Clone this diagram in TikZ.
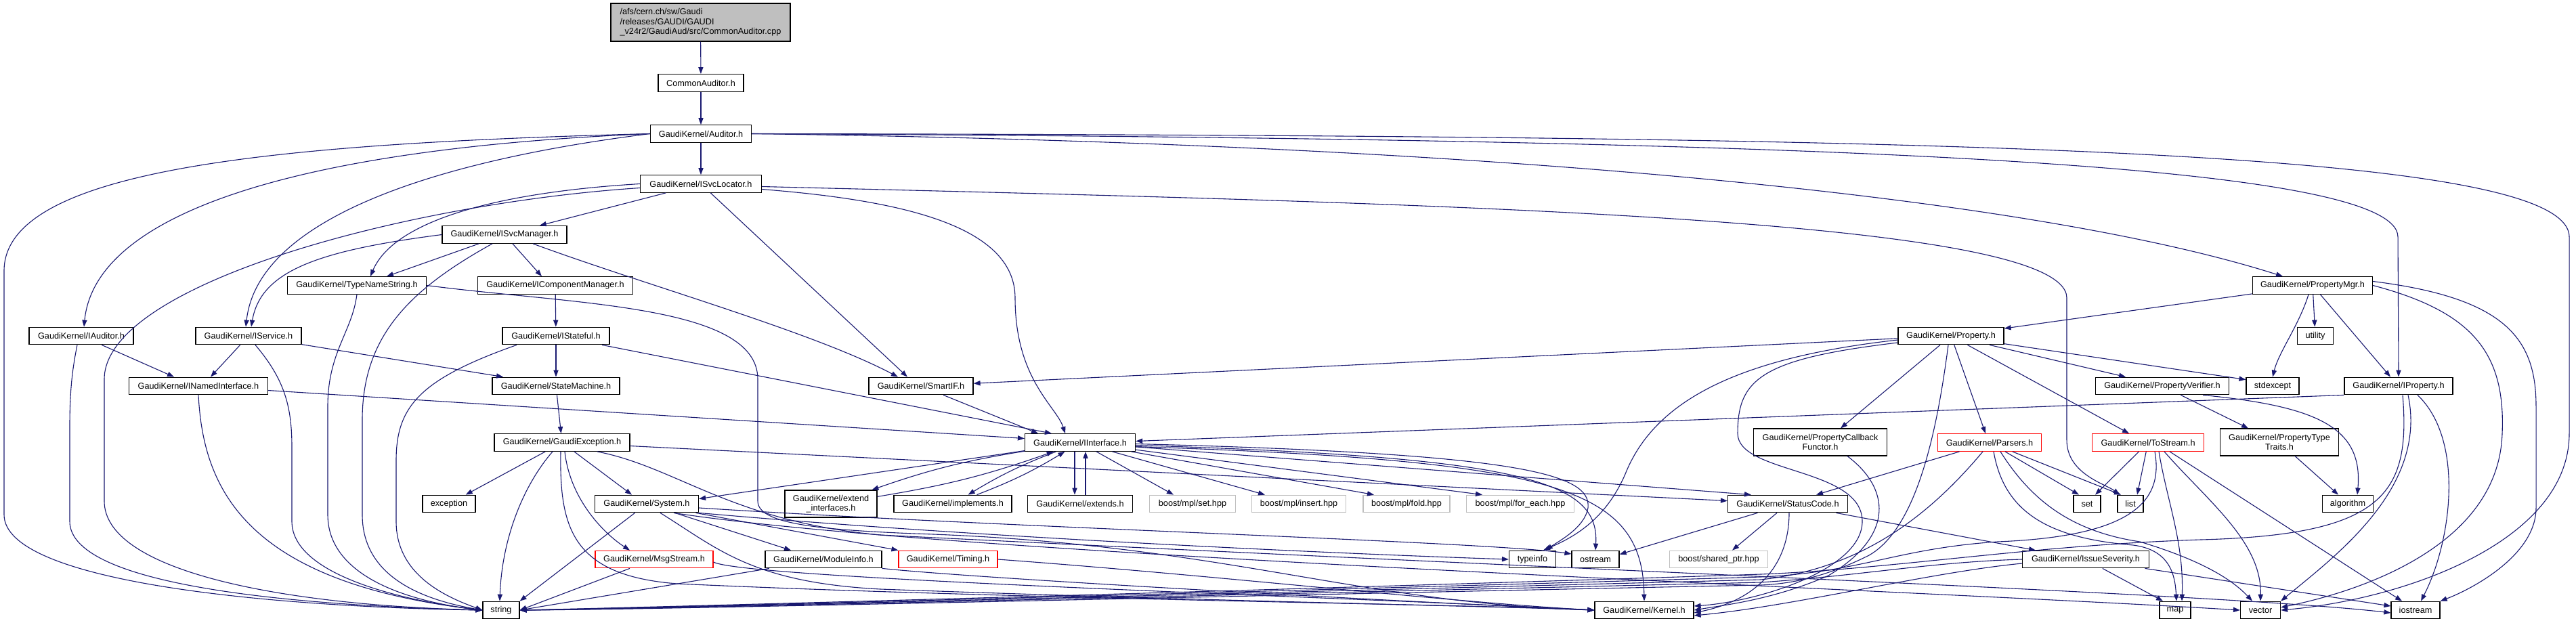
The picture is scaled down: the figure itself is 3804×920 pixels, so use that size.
\documentclass[tikz,border=0pt]{standalone}
\usepackage{fontspec}
\setmainfont{Liberation Sans}
\usepackage{tikz}
\usetikzlibrary{arrows.meta}
\definecolor{doxyedge}{HTML}{191970}
\definecolor{doxyred}{HTML}{FF0000}
\definecolor{doxygrey}{HTML}{BFBFBF}
\tikzset{
  incbox/.style={draw=black, fill=white, line width=0.6pt, inner sep=0pt,
    minimum height=12.8pt, align=center, font=\fontsize{6.35}{7.3}\selectfont},
  redbox/.style={incbox, draw=doxyred},
  extbox/.style={incbox, draw=doxygrey},
  rootbox/.style={incbox, fill=doxygrey, align=left},
  inc/.style={draw=doxyedge, line width=0.55pt, -{Triangle[length=5pt,width=3.6pt]}},
}

\begin{document}
\begin{tikzpicture}[x=0.5pt, y=-0.5pt]
  \useasboundingbox (0,0) rectangle (3804,920);

  % files
  \node[rootbox, minimum width=132.5pt, minimum height=28pt] (cpp) at (1034.5,33)
    {/afs/cern.ch/sw/Gaudi\\/releases/GAUDI/GAUDI\\\_v24r2/GaudiAud/src/CommonAuditor.cpp};
  \node[incbox, minimum width=63pt]    (cah)   at (1035,122.5) {CommonAuditor.h};
  \node[incbox, minimum width=74.5pt]  (aud)   at (1035,197.5) {GaudiKernel/Auditor.h};
  \node[incbox, minimum width=89.5pt]  (isl)   at (1035,271.5) {GaudiKernel/ISvcLocator.h};
  \node[incbox, minimum width=92pt]    (ism)   at (745,346.5)  {GaudiKernel/ISvcManager.h};
  \node[incbox, minimum width=102.5pt] (tns)   at (527,421.5)  {GaudiKernel/TypeNameString.h};
  \node[incbox, minimum width=114.5pt] (icm)   at (820,421.5)  {GaudiKernel/IComponentManager.h};
  \node[incbox, minimum width=88.5pt]  (pmgr)  at (3415,421.5) {GaudiKernel/PropertyMgr.h};
  \node[incbox, minimum width=77pt]    (iaud)  at (120,496)    {GaudiKernel/IAuditor.h};
  \node[incbox, minimum width=78pt]    (isvc)  at (367,496)    {GaudiKernel/IService.h};
  \node[incbox, minimum width=79pt]    (istf)  at (821,496)    {GaudiKernel/IStateful.h};
  \node[incbox, minimum width=78pt]    (prop)  at (2881,496)   {GaudiKernel/Property.h};
  \node[incbox, minimum width=26.5pt]  (util)  at (3419,496)   {utility};
  \node[incbox, minimum width=102.5pt] (inam)  at (293,570)    {GaudiKernel/INamedInterface.h};
  \node[incbox, minimum width=94pt]    (stm)   at (821,570)    {GaudiKernel/StateMachine.h};
  \node[incbox, minimum width=77pt]    (smart) at (1360,570)   {GaudiKernel/SmartIF.h};
  \node[incbox, minimum width=98.5pt]  (pver)  at (3193,570)   {GaudiKernel/PropertyVerifier.h};
  \node[incbox, minimum width=39pt]    (stdex) at (3356,570)   {stdexcept};
  \node[incbox, minimum width=80pt]    (iprop) at (3542,570)   {GaudiKernel/IProperty.h};
  \node[incbox, minimum width=100pt]   (gex)   at (830,653.5)  {GaudiKernel/GaudiException.h};
  \node[incbox, minimum width=81.5pt]  (iint)  at (1595,653.5) {GaudiKernel/IInterface.h};
  \node[incbox, minimum width=98.5pt, minimum height=20pt] (pcb) at (2688,653)
    {GaudiKernel/PropertyCallback\\Functor.h};
  \node[redbox, minimum width=76.5pt]  (pars)  at (2938,653.5) {GaudiKernel/Parsers.h};
  \node[redbox, minimum width=82.5pt]  (tostr) at (3172,653.5) {GaudiKernel/ToStream.h};
  \node[incbox, minimum width=87.5pt, minimum height=20pt] (ptt) at (3366,653)
    {GaudiKernel/PropertyType\\Traits.h};
  \node[incbox, minimum width=39pt]    (exc)   at (663,744)    {exception};
  \node[incbox, minimum width=76.5pt]  (sys)   at (955,744)    {GaudiKernel/System.h};
  \node[incbox, minimum width=68pt, minimum height=20pt] (ext) at (1227,744)
    {GaudiKernel/extend\\\_interfaces.h};
  \node[incbox, minimum width=87pt]    (impl)  at (1407,744)   {GaudiKernel/implements.h};
  \node[incbox, minimum width=77.5pt]  (exts)  at (1595,744)   {GaudiKernel/extends.h};
  \node[extbox, minimum width=63.5pt]  (bset)  at (1761,744)   {boost/mpl/set.hpp};
  \node[extbox, minimum width=69.5pt]  (bins)  at (1918,744)   {boost/mpl/insert.hpp};
  \node[extbox, minimum width=64pt]    (bfold) at (2077,744)   {boost/mpl/fold.hpp};
  \node[extbox, minimum width=79.5pt]  (bfe)   at (2245,744)   {boost/mpl/for\_each.hpp};
  \node[incbox, minimum width=88.5pt]  (stc)   at (2640,744)   {GaudiKernel/StatusCode.h};
  \node[incbox, minimum width=20pt]    (set)   at (3082,744)   {set};
  \node[incbox, minimum width=19pt]    (list)  at (3146,744)   {list};
  \node[incbox, minimum width=37.5pt]  (algo)  at (3467,744)   {algorithm};
  \node[redbox, minimum width=87pt]    (msg)   at (966,826)    {GaudiKernel/MsgStream.h};
  \node[incbox, minimum width=86pt]    (modi)  at (1216,826)   {GaudiKernel/ModuleInfo.h};
  \node[redbox, minimum width=73pt]    (tim)   at (1400,826)   {GaudiKernel/Timing.h};
  \node[incbox, minimum width=34.5pt]  (tinfo) at (2263,826)   {typeinfo};
  \node[incbox, minimum width=35pt]    (ostr)  at (2356,826)   {ostream};
  \node[extbox, minimum width=72.5pt]  (bsp)   at (2538,826)   {boost/shared\_ptr.hpp};
  \node[incbox, minimum width=93.5pt]  (isev)  at (3080,826)   {GaudiKernel/IssueSeverity.h};
  \node[incbox, minimum width=27pt]    (str)   at (740,901)    {string};
  \node[incbox, minimum width=73pt]    (kern)  at (2428,901)   {GaudiKernel/Kernel.h};
  \node[incbox, minimum width=23pt]    (map)   at (3212,901)   {map};
  \node[incbox, minimum width=29.5pt]  (vec)   at (3338,901)   {vector};
  \node[incbox, minimum width=36pt]    (iost)  at (3567,901)   {iostream};

  % top chain
  \draw[inc] (cpp) -- (cah);
  \draw[inc] (cah) -- (aud);
  \draw[inc] (aud) -- (isl);

  % Auditor.h
  \draw[inc] (aud.west) .. controls (400,212) and (6,250) .. (6,400) -- (6,760)
    .. controls (6,860) and (400,896) .. (str.west);
  \draw[inc] (aud.west) .. controls (420,220) and (140,320) .. ([xshift=2pt]iaud.north);
  \draw[inc] (aud.west) .. controls (620,240) and (380,330) .. ([xshift=-2pt]isvc.north);
  \draw[inc] (aud.east) .. controls (2200,212) and (3000,290) .. ([xshift=-22pt]pmgr.north);
  \draw[inc] (aud.east) .. controls (2700,205) and (3541,240) .. (3541,350) -- (iprop.north);
  \draw[inc] (aud.east) .. controls (2900,200) and (3794,220) .. (3794,350) -- (3794,640)
    .. controls (3794,800) and (3550,885) .. (vec.east);

  % ISvcLocator.h
  \draw[inc] (isl) -- (ism);
  \draw[inc] (isl.west) .. controls (720,285) and (580,330) .. ([xshift=10pt]tns.north);
  \draw[inc] ([yshift=-3pt]isl.west) .. controls (600,300) and (154,420) .. (154,560) -- (154,740)
    .. controls (154,840) and (400,893) .. (str.west);
  \draw[inc] (isl) -- ([xshift=-10pt]smart.north);
  \draw[inc] ([yshift=-4pt]isl.east) .. controls (1320,295) and (1499,330) .. (1499,440)
    .. controls (1499,560) and (1560,600) .. ([xshift=-11pt]iint.north);
  \draw[inc] ([yshift=-2pt]isl.east) .. controls (2100,300) and (3052,320) .. (3052,440) -- (3052,650)
    .. controls (3052,700) and (3110,715) .. ([xshift=-8pt]list.north);

  % ISvcManager.h
  \draw[inc] (ism) -- ([xshift=22pt]tns.north);
  \draw[inc] (ism) -- ([xshift=-10pt]icm.north);
  \draw[inc] (ism.west) .. controls (470,370) and (385,400) .. ([xshift=2pt]isvc.north);
  \draw[inc] ([xshift=-9pt]ism.south) .. controls (600,430) and (535,500) .. (535,620) -- (535,760)
    .. controls (535,850) and (620,885) .. (str.west);
  \draw[inc] ([xshift=21pt]ism.south) .. controls (950,420) and (1200,490) .. ([xshift=-17pt]smart.north);

  % TypeNameString.h
  \draw[inc] (tns.south) .. controls (520,490) and (484,520) .. (484,600) -- (484,760)
    .. controls (484,850) and (600,888) .. (str.west);
  \draw[inc] (tns.east) .. controls (850,450) and (1119,450) .. (1119,560) -- (1119,740)
    .. controls (1119,772) and (1200,782) .. (1350,788) .. controls (1800,802) and (2000,890) .. (kern.west);

  \draw[inc] (icm) -- (istf);

  % IAuditor.h, IService.h, IStateful.h
  \draw[inc] (iaud) -- ([xshift=-18pt]inam.north);
  \draw[inc] ([xshift=-3pt]iaud.south) .. controls (108,540) and (103,570) .. (103,630) -- (103,770)
    .. controls (103,860) and (400,893) .. (str.west);
  \draw[inc] (isvc) -- ([xshift=9pt]inam.north);
  \draw[inc] (isvc) -- ([xshift=-39pt]stm.north);
  \draw[inc] ([xshift=5pt]isvc.south) .. controls (420,560) and (431,600) .. (431,660) -- (431,770)
    .. controls (431,850) and (600,888) .. (str.west);
  \draw[inc] (istf) -- (stm);
  \draw[inc] ([xshift=-29pt]istf.south) .. controls (620,560) and (585,600) .. (585,680) -- (585,770)
    .. controls (585,850) and (660,882) .. (str.west);
  \draw[inc] (istf) -- ([xshift=-21pt]iint.north);

  % INamedInterface.h, StateMachine.h
  \draw[inc] (inam) -- ([yshift=3pt]iint.west);
  \draw[inc] (inam.south) .. controls (300,720) and (360,860) .. (str.west);
  \draw[inc] (stm) -- (gex);

  % GaudiException.h
  \draw[inc] (gex) -- (exc);
  \draw[inc] ([xshift=-7pt]gex.south) .. controls (770,720) and (741,800) .. ([xshift=-1pt]str.north);
  \draw[inc] (gex) -- ([xshift=-11pt]sys.north);
  \draw[inc] ([xshift=2pt]gex.south) .. controls (842,740) and (895,790) .. ([xshift=-18pt]msg.north);
  \draw[inc] (gex) -- (stc);
  \draw[inc] ([xshift=-1pt]gex.south) .. controls (826,780) and (845,850) .. (1000,862)
    .. controls (1500,885) and (2200,893) .. (kern.west);
  \draw[inc] ([xshift=26pt]gex.south) .. controls (1000,690) and (1080,770) .. (1300,790)
    .. controls (2400,845) and (3300,878) .. ([yshift=-2pt]iost.west);

  % System.h
  \draw[inc] (sys) -- (str.north east);
  \draw[inc] ([xshift=10pt]sys.south) .. controls (1060,810) and (1110,860) .. (1300,870)
    .. controls (1800,888) and (2200,895) .. (kern.west);
  \draw[inc] (sys) -- ([xshift=-24pt]modi.north);
  \draw[inc] (sys) -- (tim.north west);
  \draw[inc] (sys.south east) .. controls (1400,790) and (1900,815) .. (tinfo.west);
  \draw[inc] ([yshift=-3pt]sys.east) .. controls (1500,780) and (2200,800) .. ([yshift=4pt]ostr.west);
  \draw[inc] ([xshift=20pt]sys.south) .. controls (1400,820) and (2800,870) .. (vec.west);

  % MsgStream.h, ModuleInfo.h, Timing.h
  \draw[inc] ([xshift=-18pt]msg.south) -- (str.east);
  \draw[inc] ([yshift=-2pt]msg.east) .. controls (1100,855) and (2000,882) .. (kern.west);
  \draw[inc] (modi) -- (str.east);
  \draw[inc] (modi.south east) .. controls (1450,855) and (2100,890) .. (kern.west);
  \draw[inc] (tim.east) .. controls (1800,850) and (2150,890) .. (kern.west);

  % IInterface.h
  \draw[inc] (iint) to[bend right=5] (ext);
  \draw[inc] (ext) to[bend right=5] (iint);
  \draw[inc] (iint) to[bend right=5] (impl);
  \draw[inc] (impl) to[bend right=5] (iint);
  \draw[inc] ([xshift=-4pt]iint.south) -- ([xshift=-4pt]exts.north);
  \draw[inc] ([xshift=4pt]exts.north) -- ([xshift=4pt]iint.south);
  \draw[inc] (iint) -- ([yshift=-3pt]sys.north east);
  \draw[inc] (iint) -- ([xshift=-14pt]bset.north);
  \draw[inc] (iint) -- ([xshift=-25pt]bins.north);
  \draw[inc] (iint) -- ([xshift=-24pt]bfold.north);
  \draw[inc] (iint) -- ([xshift=-28pt]bfe.north);
  \draw[inc] ([yshift=-1pt]iint.east) .. controls (2250,670) and (2350,700) .. (2345,750)
    .. controls (2340,780) and (2300,800) .. ([xshift=10pt]tinfo.north);
  \draw[inc] ([yshift=-2pt]iint.east) .. controls (2250,675) and (2362,710) .. (ostr.north);
  \draw[inc] ([yshift=-3pt]iint.east) .. controls (2300,680) and (2425,720) .. (kern.north);
  \draw[inc] (iint) -- ([xshift=-27pt]stc.north);
  \draw[inc] (smart) -- ([xshift=-31pt]iint.north);

  % PropertyMgr.h
  \draw[inc] (pmgr) -- (prop);
  \draw[inc] (pmgr) -- (util);
  \draw[inc] ([xshift=-3pt]pmgr.south) .. controls (3395,480) and (3365,520) .. (stdex.north);
  \draw[inc] (pmgr) -- ([xshift=-6pt]iprop.north);
  \draw[inc] (pmgr.east) .. controls (3650,460) and (3700,520) .. (3695,640)
    .. controls (3690,800) and (3500,870) .. ([yshift=2pt]vec.east);
  \draw[inc] ([yshift=3pt]pmgr.east) .. controls (3700,440) and (3745,500) .. (3745,600) -- (3745,750)
    .. controls (3745,820) and (3650,870) .. (iost.north east);

  % Property.h
  \draw[inc] (prop) -- (smart);
  \draw[inc] ([yshift=-3pt]prop.west) .. controls (2550,530) and (2440,600) .. (2400,700)
    .. controls (2370,770) and (2320,795) .. ([xshift=8pt]tinfo.north);
  \draw[inc] ([yshift=-5pt]prop.west) .. controls (2600,530) and (2566,560) .. (2566,640)
    .. controls (2566,700) and (2750,690) .. (2750,770) .. controls (2750,840) and (2600,888) .. ([yshift=3pt]kern.east);
  \draw[inc] ([xshift=-2pt]prop.south) .. controls (2860,640) and (2830,780) .. (2760,820)
    .. controls (2700,850) and (2650,862) .. (2600,864) .. controls (2000,876) and (1000,900) .. (str.east);
  \draw[inc] (prop) -- ([xshift=15pt]pcb.north);
  \draw[inc] (prop) -- ([xshift=-3pt]pars.north);
  \draw[inc] (prop) -- ([xshift=-14pt]tostr.north);
  \draw[inc] (prop) -- ([xshift=-27pt]pver.north);
  \draw[inc] (prop) -- ([yshift=-2pt]stdex.north west);

  % IProperty.h
  \draw[inc] (iprop.south west) -- ([yshift=1pt]iint.east);
  \draw[inc] ([xshift=3pt]iprop.south) .. controls (3560,730) and (3520,790) .. (3250,797)
    .. controls (3000,805) and (2800,840) .. (2600,848) .. controls (2000,868) and (1000,896) .. (str.east);
  \draw[inc] ([xshift=7pt]iprop.south) .. controls (3585,720) and (3450,820) .. (vec.north east);
  \draw[inc] ([xshift=14pt]iprop.south) .. controls (3640,650) and (3620,800) .. ([xshift=4pt]iost.north);

  % PropertyCallbackFunctor.h, PropertyVerifier.h, PropertyTypeTraits.h
  \draw[inc] ([xshift=20pt]pcb.south) .. controls (2790,720) and (2800,790) .. (2700,850)
    .. controls (2620,885) and (2550,893) .. (kern.east);
  \draw[inc] (pver) -- ([xshift=-23pt]ptt.north);
  \draw[inc] ([xshift=30pt]pver.south) .. controls (3420,600) and (3490,630) .. ([xshift=7pt]algo.north);
  \draw[inc] (ptt) -- ([xshift=-7pt]algo.north);

  % Parsers.h
  \draw[inc] (pars) -- ([xshift=21pt]stc.north);
  \draw[inc] ([xshift=-5pt]pars.south) .. controls (2850,760) and (2750,840) .. (2600,856)
    .. controls (2000,872) and (1000,898) .. (str.east);
  \draw[inc] (pars) -- ([xshift=-6pt]set.north);
  \draw[inc] (pars) -- ([xshift=-7pt]list.north);
  \draw[inc] ([xshift=3pt]pars.south) .. controls (2960,760) and (3030,795) .. (3150,805)
    .. controls (3205,812) and (3212,850) .. ([xshift=1pt]map.north);
  \draw[inc] ([xshift=8pt]pars.south) .. controls (3000,740) and (3060,785) .. (3160,800)
    .. controls (3260,830) and (3300,860) .. ([xshift=-6pt]vec.north);

  % ToStream.h
  \draw[inc] (tostr) -- ([xshift=6pt]set.north);
  \draw[inc] (tostr) -- ([xshift=5pt]list.north);
  \draw[inc] ([xshift=5pt]tostr.south) .. controls (3195,740) and (3150,792) .. (2950,800)
    .. controls (2800,810) and (2750,845) .. (2600,852) .. controls (2000,870) and (1000,897) .. (str.east);
  \draw[inc] ([xshift=8pt]tostr.south) .. controls (3200,740) and (3225,800) .. ([xshift=5pt]map.north);
  \draw[inc] ([xshift=12pt]tostr.south) .. controls (3260,740) and (3340,800) .. (vec.north);
  \draw[inc] ([xshift=16pt]tostr.south) -- ([xshift=-10pt]iost.north);

  % StatusCode.h, IssueSeverity.h
  \draw[inc] (stc) -- ([yshift=-3pt]ostr.north east);
  \draw[inc] (stc) -- ([xshift=10pt]bsp.north);
  \draw[inc] ([xshift=1pt]stc.south) .. controls (2642,830) and (2600,885) .. ([yshift=-2pt]kern.east);
  \draw[inc] (stc) -- ([xshift=-37pt]isev.north);
  \draw[inc] (isev) -- ([xshift=-9pt]map.north);
  \draw[inc] (isev) -- ([yshift=3pt]iost.west);
  \draw[inc] (isev.west) .. controls (2850,830) and (2750,850) .. (2600,860)
    .. controls (2000,874) and (1000,899) .. (str.east);
  \draw[inc] ([yshift=-3pt]isev.west) .. controls (2850,845) and (2650,895) .. ([yshift=-4pt]kern.east);
\end{tikzpicture}
\end{document}
